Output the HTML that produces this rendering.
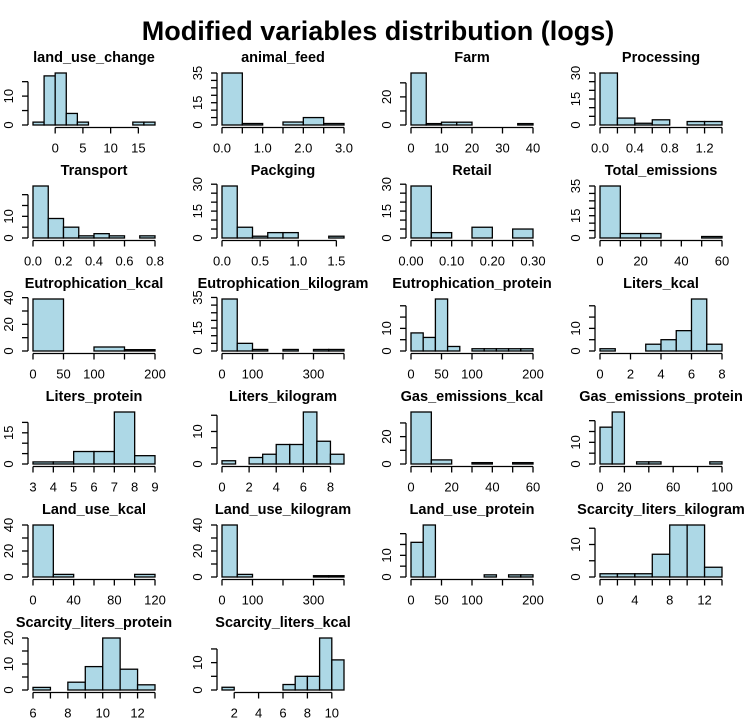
<!DOCTYPE html>
<html><head><meta charset="utf-8"><style>
html,body{margin:0;padding:0;background:#fff;}
svg{display:block;}
text{font-family:"Liberation Sans",Arial,sans-serif;fill:#000;}
</style></head><body>
<svg id="chart" width="756" height="720" xmlns="http://www.w3.org/2000/svg">
<text x="378" y="40" text-anchor="middle" font-size="27" font-weight="bold">Modified variables distribution (logs)</text>
</svg>
<script>
const titles = ["land_use_change","animal_feed","Farm","Processing","Transport","Packging","Retail","Total_emissions","Eutrophication_kcal","Eutrophication_kilogram","Eutrophication_protein","Liters_kcal","Liters_protein","Liters_kilogram","Gas_emissions_kcal","Gas_emissions_protein","Land_use_kcal","Land_use_kilogram","Land_use_protein","Scarcity_liters_kilogram","Scarcity_liters_protein","Scarcity_liters_kcal"];
const breakStarts = [-4,0,0,0,0,0,0,0,0,0,0,0,3,0,0,0,0,0,0,0,6,1];
const breakSteps = [2,0.5,5,0.2,0.1,0.2,0.05,10,50,50,20,1,1,1,10,10,20,50,20,2,1,1];
const counts = [
 [1,17,18,4,1,0,0,0,0,1,1],
 [35,1,0,2,5,1],
 [37,1,2,2,0,0,0,1],
 [30,4,1,3,0,2,2],
 [24,9,5,1,2,1,0,1],
 [29,6,1,3,3,0,0,1],
 [29,3,0,6,0,5],
 [35,3,3,0,0,1],
 [39,0,3,1],
 [34,5,1,0,1,0,1,1],
 [8,6,23,2,0,1,1,1,1,1],
 [1,0,0,3,5,9,23,3],
 [1,1,6,6,25,4],
 [1,0,2,3,6,6,16,7,3],
 [38,3,0,1,0,1],
 [17,24,0,1,1,0,0,0,0,1],
 [40,2,0,0,0,2],
 [40,2,0,0,0,0,1,1],
 [16,24,0,0,0,0,1,0,1,1],
 [1,1,1,7,16,16,3],
 [1,0,3,9,20,8,2],
 [1,0,0,0,0,2,5,5,19,11]
];
const yTicks = [
 [0,5,10,15],[0,5,10,15,20,25,30,35],[0,10,20,30],[0,5,10,15,20,25,30],
 [0,5,10,15,20],[0,5,10,15,20,25,30],[0,5,10,15,20,25,30],[0,5,10,15,20,25,30,35],
 [0,10,20,30,40],[0,5,10,15,20,25,30,35],[0,5,10,15,20],[0,5,10,15,20],
 [0,5,10,15,20],[0,5,10,15],[0,10,20,30],[0,5,10,15,20],
 [0,10,20,30,40],[0,10,20,30,40],[0,5,10,15,20],[0,5,10,15],
 [0,5,10,15,20],[0,5,10,15]
];
const yLabels = [
 ["0","10"],["0","15","35"],["0","20"],["0","15","30"],
 ["0","10"],["0","15","30"],["0","15","30"],["0","15","35"],
 ["0","20","40"],["0","15","35"],["0","10"],["0","10"],
 ["0","15"],["0","10"],["0","20"],["0","10"],
 ["0","20","40"],["0","20","40"],["0","10"],["0","10"],
 ["0","10","20"],["0","10"]
];
const xTicks = [
 [0,5,10,15],[0,0.5,1,1.5,2,2.5,3],[0,10,20,30,40],[0,0.2,0.4,0.6,0.8,1,1.2,1.4],
 [0,0.2,0.4,0.6,0.8],[0,0.5,1,1.5],[0,0.05,0.1,0.15,0.2,0.25,0.3],[0,10,20,30,40,50,60],
 [0,50,100,150,200],[0,100,200,300,400],[0,50,100,150,200],[0,2,4,6,8],
 [3,4,5,6,7,8,9],[0,2,4,6,8],[0,10,20,30,40,50,60],[0,20,40,60,80,100],
 [0,20,40,60,80,100,120],[0,100,200,300,400],[0,50,100,150,200],[0,2,4,6,8,10,12,14],
 [6,7,8,9,10,11,12,13],[2,4,6,8,10]
];
const xLabels = [
 ["0","5","10","15"],["0.0","1.0","2.0","3.0"],["0","10","20","30","40"],["0.0","0.4","0.8","1.2"],
 ["0.0","0.2","0.4","0.6","0.8"],["0.0","0.5","1.0","1.5"],["0.00","0.10","0.20","0.30"],["0","20","40","60"],
 ["0","50","100","200"],["0","100","300"],["0","50","100","200"],["0","2","4","6","8"],
 ["3","4","5","6","7","8","9"],["0","2","4","6","8"],["0","20","40","60"],["0","20","60","100"],
 ["0","40","80","120"],["0","100","300"],["0","50","100","200"],["0","4","8","12"],
 ["6","8","10","12"],["2","4","6","8","10"]
];

const NS = "http://www.w3.org/2000/svg";
const svg = document.getElementById("chart");
function mk(tag, attrs, parent){
  const e = document.createElementNS(NS, tag);
  for (const k in attrs) e.setAttribute(k, attrs[k]);
  parent.appendChild(e);
  return e;
}
titles.forEach((t, i) => {
  const c = i % 4, r = Math.floor(i / 4);
  const bx0 = 33 + 189 * c, W = 122, y0 = 125 + 113 * r, H = 52;
  const cnt = counts[i];
  const lo = breakStarts[i], hi = lo + breakSteps[i] * cnt.length;
  const maxC = Math.max(...cnt);
  const xs = v => bx0 + (v - lo) / (hi - lo) * W;
  const ys = v => y0 - v / maxC * H;
  const g = mk("g", {}, svg);
  
  
  const tt = mk("text", {x: bx0 + W / 2, y: 62 + 113 * r, "text-anchor": "middle", "font-size": "14.5", "font-weight": "bold"}, g);
  tt.textContent = t;
  
  
  cnt.forEach((v, j) => {
    const a = lo + breakSteps[i] * j, b = a + breakSteps[i];
    const rect = mk("rect", {x: xs(a), y: ys(v), width: xs(b) - xs(a), height: y0 - ys(v), fill: "#ADD8E6", stroke: "#000", "stroke-width": "1.3"}, g);
    
    
  });
  const xt = xTicks[i], ay = y0 + 2.5;
  const xa = mk("line", {x1: xs(xt[0]), x2: xs(xt[xt.length - 1]), y1: ay, y2: ay, stroke: "#000", "stroke-width": "1.3"}, g);
  
  
  xt.forEach(v => {
    mk("line", {x1: xs(v), x2: xs(v), y1: ay, y2: ay + 6, stroke: "#000", "stroke-width": "1.3"}, g);
  });
  xLabels[i].forEach(l => {
    const lt = mk("text", {x: xs(parseFloat(l)), y: ay + 25, "text-anchor": "middle", "font-size": "13"}, g);
    lt.textContent = l;
    
    
  });
  const yt = yTicks[i], ax = bx0 - 5;
  const ya = mk("line", {x1: ax, x2: ax, y1: ys(yt[0]), y2: ys(yt[yt.length - 1]), stroke: "#000", "stroke-width": "1.3"}, g);
  
  
  yt.forEach(v => {
    mk("line", {x1: ax - 6, x2: ax, y1: ys(v), y2: ys(v), stroke: "#000", "stroke-width": "1.3"}, g);
  });
  yLabels[i].forEach(l => {
    const px = ax - 15, py = ys(parseFloat(l));
    const lt = mk("text", {x: px, y: py, "text-anchor": "middle", "font-size": "13", transform: "rotate(-90 " + px + " " + py + ")"}, g);
    lt.textContent = l;
    
    
  });
});
</script>
</body></html>
